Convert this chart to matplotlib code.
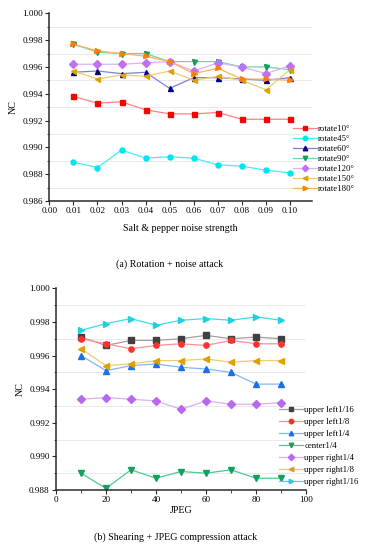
import matplotlib
matplotlib.use('Agg')
import matplotlib.pyplot as plt
import numpy as np
from matplotlib.ticker import MultipleLocator

plt.rcParams['font.family'] = ['Liberation Serif', 'DejaVu Serif']

# (a) rotation + noise
noise = [0.01, 0.02, 0.03, 0.04, 0.05, 0.06, 0.07, 0.08, 0.09, 0.10]
rot_labels = ['rotate10°', 'rotate45°', 'rotate60°', 'rotate90°', 'rotate120°', 'rotate150°', 'rotate180°']
rotate10 = [0.9938, 0.9933, 0.9934, 0.9928, 0.9925, 0.9925, 0.9926, 0.9921, 0.9921, 0.9921]
rotate45 = [0.9889, 0.9885, 0.9898, 0.9892, 0.9893, 0.9892, 0.9887, 0.9886, 0.9883, 0.9881]
rotate60 = [0.9956, 0.9957, 0.9955, 0.9956, 0.9944, 0.9952, 0.9952, 0.9951, 0.9950, 0.9952]
rotate90 = [0.9977, 0.9971, 0.9970, 0.9970, 0.9964, 0.9964, 0.9964, 0.9960, 0.9960, 0.9958]
rotate120 = [0.9962, 0.9962, 0.9962, 0.9963, 0.9964, 0.9957, 0.9963, 0.9960, 0.9955, 0.9961]
rotate150 = [0.9957, 0.9951, 0.9954, 0.9953, 0.9957, 0.9950, 0.9953, 0.9950, 0.9943, 0.9958]
rotate180 = [0.9977, 0.9972, 0.9970, 0.9968, 0.9964, 0.9955, 0.9959, 0.9951, 0.9951, 0.9950]

# (b) shearing + JPEG
jpeg = [10, 20, 30, 40, 50, 60, 70, 80, 90]
shear_labels = ['upper left1/16', 'upper left1/8', 'upper left1/4', 'center1/4',
                'upper right1/4', 'upper right1/8', 'upper right1/16']
ul16 = [0.9971, 0.9966, 0.9969, 0.9969, 0.9970, 0.9972, 0.9970, 0.9971, 0.9970]
ul8 = [0.9970, 0.9967, 0.9964, 0.9966, 0.9967, 0.9966, 0.9969, 0.9967, 0.9967]
ul4 = [0.9960, 0.9951, 0.9954, 0.9955, 0.9953, 0.9952, 0.9950, 0.9943, 0.9943]
c4 = [0.9890, 0.9881, 0.9892, 0.9887, 0.9891, 0.9890, 0.9892, 0.9887, 0.9887]
ur4 = [0.9934, 0.9935, 0.9934, 0.9933, 0.9928, 0.9933, 0.9931, 0.9931, 0.9932]
ur8 = [0.9964, 0.9954, 0.9955, 0.9957, 0.9957, 0.9958, 0.9956, 0.9957, 0.9957]
ur16 = [0.9975, 0.9979, 0.9982, 0.9978, 0.9981, 0.9982, 0.9981, 0.9983, 0.9981]

# (marker colour, line colour, marker)
rot_styles = [('#ff0000', '#ff8080', 's'), ('#00e5f0', '#40eef5', 'o'), ('#000090', '#8080d0', '^'),
              ('#10a060', '#70d8a8', 'v'), ('#c070f0', '#e0b0f5', 'D'), ('#e0a000', '#f0cc70', '<'),
              ('#ff8000', '#ffb060', '>')]
shear_styles = [('#404040', '#a0a0a0', 's'), ('#ff3030', '#ff9090', 'o'), ('#1a70e8', '#80b8f5', '^'),
                ('#10a060', '#50c890', 'v'), ('#b868f0', '#dcb0f5', 'D'), ('#e0a000', '#f0cc70', '<'),
                ('#20d0e0', '#40dce8', '>')]

fig = plt.figure(figsize=(3.65, 5.5), dpi=100)


def style_axes(ax):
    for s in ['top', 'right']:
        ax.spines[s].set_visible(False)
    for s in ['left', 'bottom']:
        ax.spines[s].set_color('#2a2a2a')
        ax.spines[s].set_linewidth(1.1)
    ax.yaxis.set_major_locator(MultipleLocator(0.002))
    ax.yaxis.set_minor_locator(MultipleLocator(0.001))
    ax.tick_params(which='major', direction='out', length=3, width=0.8, labelsize=6.6, pad=1.5, color='#2a2a2a')
    ax.tick_params(which='minor', direction='out', length=1.8, width=0.6, color='#2a2a2a')
    ax.yaxis.set_major_formatter(matplotlib.ticker.FormatStrFormatter('%.3f'))
    ax.grid(axis='y', which='minor', color='#e6e6e6', linewidth=0.6)


# top panel
ax1 = fig.add_axes([0.135, 0.6345, 0.719, 0.3413])
series_a = [rotate10, rotate45, rotate60, rotate90, rotate120, rotate150, rotate180]
for vals, lab, (mc, lc, mk) in zip(series_a, rot_labels, rot_styles):
    ax1.plot(noise, vals, color=lc, lw=0.9, marker=mk, ms=3.6, mfc=mc, mec=mc, label=lab)
ax1.set_xlim(0, 0.109)
ax1.set_ylim(0.986, 1.000)
ax1.set_xticks(np.arange(0, 0.101, 0.01))
ax1.xaxis.set_major_formatter(matplotlib.ticker.FormatStrFormatter('%.2f'))
style_axes(ax1)
ax1.set_ylabel('NC', fontsize=7.2, labelpad=3)
ax1.set_xlabel('Salt & pepper noise strength', fontsize=7.2, labelpad=6)
ax1.legend(loc='upper left', bbox_to_anchor=(293 / 365, 1 - 125 / 550), bbox_transform=fig.transFigure,
           frameon=False, fontsize=6.3, handlelength=2.7, handletextpad=0.2, labelspacing=0.22,
           borderpad=0, borderaxespad=0, markerscale=0.9)
fig.text(0.465, 1 - 264 / 550, '(a) Rotation + noise attack', fontsize=7.2, ha='center', va='center')

# bottom panel
ax2 = fig.add_axes([0.1534, 0.1091, 0.685, 0.3667])
series_b = [ul16, ul8, ul4, c4, ur4, ur8, ur16]
for vals, lab, (mc, lc, mk) in zip(series_b, shear_labels, shear_styles):
    ax2.plot(jpeg, vals, color=lc, lw=0.9, marker=mk, ms=3.8, mfc=mc, mec=mc, label=lab)
ax2.set_xlim(0, 100)
ax2.set_ylim(0.988, 1.000)
ax2.xaxis.set_major_locator(MultipleLocator(20))
ax2.xaxis.set_minor_locator(MultipleLocator(10))
style_axes(ax2)
ax2.set_ylabel('NC', fontsize=7.2, labelpad=3)
ax2.set_xlabel('JPEG', fontsize=7.2, labelpad=1)
ax2.legend(loc='upper left', bbox_to_anchor=(279 / 365, 1 - 406 / 550), bbox_transform=fig.transFigure,
           frameon=False, fontsize=6.3, handlelength=2.7, handletextpad=0.2, labelspacing=0.45,
           borderpad=0, borderaxespad=0, markerscale=0.85)
fig.text(0.48, 1 - 537 / 550, '(b) Shearing + JPEG compression attack', fontsize=7.2, ha='center', va='center')

fig.savefig('out.png', dpi=100)
